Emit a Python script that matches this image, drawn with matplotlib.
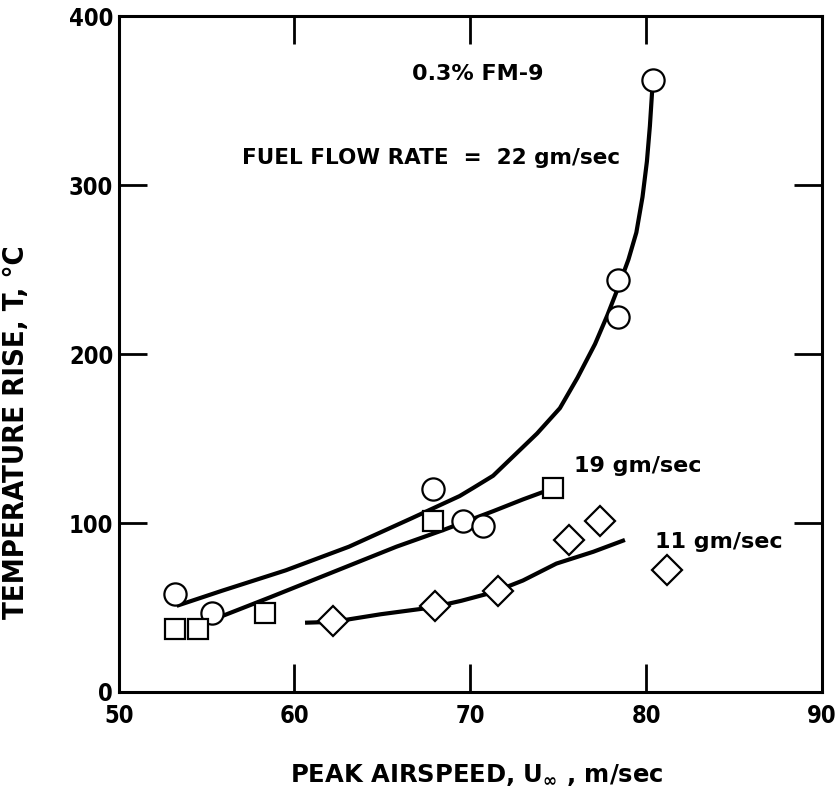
import matplotlib.pyplot as plt
import numpy as np

# measured points, 22 / 19 / 11 gm/sec
circ_x = [53.2, 55.3, 67.9, 69.6, 70.7, 78.4, 78.4, 80.4]
circ_y = [58, 47, 120, 101, 98, 244, 222, 362]
sq_x = [53.2, 54.5, 58.3, 67.9, 74.7]
sq_y = [37, 37, 47, 101, 121]
dia_x = [62.2, 68.0, 71.6, 75.6, 77.4, 81.2]
dia_y = [42, 51, 60, 90, 101, 72]

# faired curves
c22_x = [53.3, 55.9, 59.5, 63.1, 66.7, 69.4, 70.2, 71.3, 72.0, 73.8, 75.1,
         76.1, 77.1, 77.8, 78.4, 79.0, 79.45, 79.8, 80.05, 80.22, 80.35]
c22_y = [51, 60, 72, 86, 103, 116, 121, 128, 135, 153, 168,
         186, 206, 223, 239, 256, 272, 293, 314, 335, 356]
c19_x = [55.9, 58.6, 62.2, 65.8, 68.5, 71.3, 73.0, 74.7]
c19_y = [45, 56, 71, 86, 96, 107, 114, 120.5]
c11_x = [60.6, 62.2, 64.9, 67.8, 69.5, 71.3, 73.0, 74.9, 77.0, 78.8]
c11_y = [41, 41.5, 46, 50, 54, 59, 66, 76, 83, 90]

xticks = [50, 60, 70, 80, 90]
yticks = [0, 100, 200, 300, 400]

plt.rcParams['font.family'] = ['DejaVu Sans']
plt.rcParams['font.weight'] = 'bold'
plt.rcParams['axes.labelweight'] = 'bold'

fig = plt.figure(figsize=(8.36, 7.94), dpi=100)
ax = fig.add_axes([0.142, 0.1285, 0.841, 0.851])

for cx, cy in [(c22_x, c22_y), (c19_x, c19_y), (c11_x, c11_y)]:
  ax.plot(cx, cy, color='black', lw=3, zorder=2, solid_capstyle='butt',
          solid_joinstyle='round')

mk = dict(linestyle='none', mfc='white', mec='black', mew=1.6, zorder=3)
ax.plot(circ_x, circ_y, marker='o', ms=16, **mk)
ax.plot(sq_x, sq_y, marker='s', ms=15, **mk)
ax.plot(dia_x, dia_y, marker='D', ms=15, **mk)

ax.text(70.4, 366, '0.3% FM-9', ha='center', va='center', fontsize=16)
ax.text(57.0, 316, 'FUEL FLOW RATE  =  22 gm/sec', ha='left', va='center', fontsize=15.5)
ax.text(75.9, 134, '19 gm/sec', ha='left', va='center', fontsize=16)
ax.text(80.5, 89, '11 gm/sec', ha='left', va='center', fontsize=16)

ax.set_xlim(50, 90)
ax.set_ylim(0, 400)
ax.set_xticks(xticks)
ax.set_yticks(yticks)
ax.tick_params(direction='in', length=20, width=2, top=True, right=True,
               labelsize=17)
ax.tick_params(axis='x', pad=9)
ax.tick_params(axis='y', pad=4)
for lab in ax.get_xticklabels() + ax.get_yticklabels():
  lab.set_fontstretch('condensed')
for s in ax.spines.values():
  s.set_linewidth(2.2)

ax.set_xlabel(r'PEAK AIRSPEED, U$_{\mathbf{\infty}}$ , m/sec', fontsize=17.5)
ax.set_ylabel('TEMPERATURE RISE, T, °C', fontsize=21, fontstretch='condensed')
ax.xaxis.set_label_coords(0.509, -0.104)
ax.yaxis.set_label_coords(-0.126, 0.384)

plt.savefig('out.png', dpi=100)
plt.close()
